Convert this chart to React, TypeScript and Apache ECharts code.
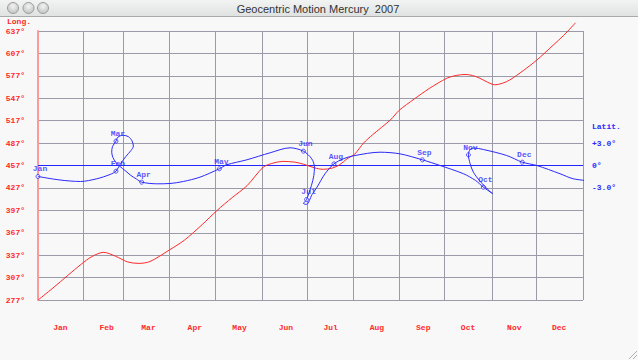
import React, { useEffect, useRef } from 'react';
import * as echarts from 'echarts';

const TITLE = 'Geocentric Motion Mercury  2007';
const MONTHS = ['Jan', 'Feb', 'Mar', 'Apr', 'May', 'Jun', 'Jul', 'Aug', 'Sep', 'Oct', 'Nov', 'Dec'];
// month boundaries (day of year) for the vertical grid lines
const MONTH_BOUNDARY_DAYS = [0, 30, 57, 88, 119, 150, 180, 211, 242, 272, 304, 334, 365];
// month label positions (day of year, mid-month)
const MONTH_LABEL_DAYS = [15, 46, 74, 105, 135, 166, 196, 227, 258, 288, 319, 349];
const LONG_TICKS = [277, 307, 337, 367, 397, 427, 457, 487, 517, 547, 577, 607, 637];
const LAT_TICKS = [-3, 0, 3];
const LONG_RANGE = [277, 637];

// geocentric longitude (unwrapped, degrees) by day of year
const LONG_DAYS = [0, 10, 20, 29, 36, 44, 52, 60, 67, 75, 88, 98, 110, 120, 130, 140, 151, 158, 164, 172, 178, 185, 191, 197, 202, 207, 212, 218, 224, 236, 242, 252, 262, 274, 280, 286, 291, 296, 301, 306, 311, 316, 325, 334, 345, 352, 360];
const LONG_VALUES = [277, 293, 310, 325, 335, 340.8, 335.5, 328, 326, 328.5, 344, 357, 378, 397, 414, 430, 455, 460.5, 462.5, 461.5, 458.6, 454, 451.9, 453.5, 458, 466, 472, 487, 498, 518, 531, 546, 560, 574, 577.5, 578.8, 577.5, 573.7, 568.5, 565, 567, 571.5, 584, 598, 618, 631, 648];

// latitude path plotted against longitude (in time order)
const PATH_LONG = [277, 291.5, 305, 315.8, 324.6, 328.5, 331.2, 335, 338.4, 340, 339.1, 336.8, 333.2, 329.8, 328.5, 326.2, 325.7, 326.5, 328.5, 331.2, 334.5, 338.4, 342, 345.5, 355.4, 364.2, 373, 384, 396.8, 401.6, 414.9, 430.3, 443.5, 452.3, 457.8, 459.6, 459.2, 457.6, 454.4, 452.4, 454.4, 458, 461.3, 466.6, 472.5, 478.7, 486.4, 502.9, 516.1, 530.9, 542.6, 558, 566, 571.2, 577.3, 575.6, 569, 564.6, 562.4, 561.3, 562.4, 565, 571.2, 586.6, 596.9, 606.5, 621.8, 630.6, 643.8];
const PATH_LAT = [-1.47, -1.94, -2.14, -1.78, -1.2, -0.76, 0.13, 1.2, 2.0, 2.6, 3.3, 3.85, 4.05, 3.8, 3.25, 2.54, 1.78, 1.07, 0.4, -0.13, -0.67, -1.34, -1.8, -2.23, -2.45, -2.41, -2.14, -1.56, -0.44, 0.09, 0.76, 1.7, 2.37, 1.92, 0.9, -0.23, -1.34, -2.68, -4.55, -5.09, -5.2, -3.9, -2.9, -1.1, 0.22, 0.9, 1.34, 1.78, 1.56, 0.76, 0, -1.1, -2.0, -2.9, -3.75, -3.5, -2.1, -0.9, 0.27, 1.43, 2.14, 2.34, 2.14, 1.34, 0.44, 0, -1.1, -1.78, -2.1];

// position on the 1st of each month
const MARK_LONG = [277, 328.5, 328.5, 345.5, 396.8, 452.3, 454.4, 472.5, 530.9, 571.2, 561.3, 596.9];
const MARK_LAT = [-1.47, -0.76, 3.25, -2.23, -0.44, 1.92, -4.55, 0.22, 0.76, -2.9, 1.43, 0.44];

const RED = '#ff2a2a';
const BLUE = '#2a2aff';
const ZERO_BLUE = '#2424ff';
const GRID = '#9a9aa8';
const MONO = '"Liberation Mono", "Courier New", monospace';

export default function App() {
  const ref = useRef<HTMLDivElement>(null);
  useEffect(() => {
    document.body.style.margin = '0';
    const chart = echarts.init(ref.current!, undefined, { renderer: 'svg', width: 638, height: 360 });
    const labelFont = { fontFamily: MONO, fontSize: 8, fontWeight: 'bold' as const };
    const option: any = {
      animation: false,
      backgroundColor: '#f8f8f8',
      grid: { left: 38, right: 55, top: 31, bottom: 60 },
      xAxis: [
        {
          type: 'value', min: 0, max: 365, position: 'bottom',
          axisLine: { show: false, onZero: false },
          axisTick: { show: false, customValues: MONTH_BOUNDARY_DAYS },
          splitLine: { show: true, lineStyle: { color: GRID, width: 1 } },
          axisLabel: {
            customValues: MONTH_LABEL_DAYS, margin: 23, color: RED, ...labelFont,
            formatter: (v: number) => {
              const i = MONTH_LABEL_DAYS.findIndex((d) => Math.abs(d - v) < 0.01);
              return i >= 0 ? MONTHS[i] : '';
            },
          },
        },
        {
          type: 'value', min: LONG_RANGE[0], max: LONG_RANGE[1], show: false,
          axisLine: { show: false, onZero: false }, splitLine: { show: false }, axisLabel: { show: false }, axisTick: { show: false },
        },
      ],
      yAxis: [
        {
          type: 'value', min: LONG_RANGE[0], max: LONG_RANGE[1], position: 'left',
          axisLine: { show: true, onZero: false, lineStyle: { color: '#ff9a9a', width: 2 } },
          axisTick: { show: false, customValues: LONG_TICKS },
          splitLine: { show: true, lineStyle: { color: GRID, width: 1 } },
          axisLabel: { customValues: LONG_TICKS, margin: 13, color: RED, ...labelFont, formatter: (v: number) => `${v}°` },
        },
        {
          type: 'value', min: -18, max: 18, position: 'right',
          axisLine: { show: false, onZero: false },
          axisTick: { show: false, customValues: LAT_TICKS },
          splitLine: { show: false },
          axisLabel: {
            customValues: LAT_TICKS, margin: 9, color: BLUE, ...labelFont,
            formatter: (v: number) => (v > 0 ? `+${v.toFixed(1)}°` : v < 0 ? `${v.toFixed(1)}°` : '0°'),
          },
        },
      ],
      series: [
        {
          type: 'line', name: 'Ecliptic', xAxisIndex: 1, yAxisIndex: 1,
          data: LONG_RANGE.map((l) => [l, 0]),
          showSymbol: false, silent: true,
          lineStyle: { color: ZERO_BLUE, width: 1 },
          itemStyle: { color: ZERO_BLUE },
        },
        {
          type: 'line', name: 'Longitude', xAxisIndex: 0, yAxisIndex: 0,
          data: LONG_DAYS.map((d, i) => [d, LONG_VALUES[i]]),
          showSymbol: false, smooth: 0.3, clip: false,
          lineStyle: { color: RED, width: 1 },
          itemStyle: { color: RED },
        },
        {
          type: 'line', name: 'Latitude', xAxisIndex: 1, yAxisIndex: 1,
          data: PATH_LONG.map((l, i) => [l, PATH_LAT[i]]),
          showSymbol: false, smooth: 0.3, clip: false,
          lineStyle: { color: BLUE, width: 1 },
          itemStyle: { color: BLUE },
        },
        {
          type: 'scatter', name: 'Months', xAxisIndex: 1, yAxisIndex: 1,
          data: MARK_LONG.map((l, i) => [l, MARK_LAT[i]]),
          symbol: 'circle', symbolSize: 4, clip: false,
          itemStyle: { color: '#f8f8f8', borderColor: BLUE, borderWidth: 1 },
          label: {
            show: true, position: 'top', distance: 1, offset: [2, 0], color: BLUE, ...labelFont,
            formatter: (p: any) => MONTHS[p.dataIndex],
          },
        },
      ],
      graphic: [
        {
          type: 'rect', shape: { x: 0, y: 0, width: 638, height: 17 }, silent: true,
          style: {
            fill: new echarts.graphic.LinearGradient(0, 0, 0, 1, [
              { offset: 0, color: '#f2f3f3' },
              { offset: 1, color: '#dfe1e1' },
            ]),
          },
        },
        { type: 'line', shape: { x1: 0, y1: 16.5, x2: 638, y2: 16.5 }, style: { stroke: '#a9abab', lineWidth: 1 }, silent: true },
        ...[13, 28.5, 43].map((cx) => ({
          type: 'circle', shape: { cx, cy: 8, r: 5.5 }, silent: true,
          style: {
            fill: new echarts.graphic.RadialGradient(0.5, 0.35, 0.7, [
              { offset: 0, color: '#f4f4f4' },
              { offset: 1, color: '#bdbdbd' },
            ]),
            stroke: '#9c9c9c', lineWidth: 1,
          },
        })),
        {
          type: 'text', x: 318, y: 9, silent: true,
          style: { text: TITLE, fill: '#333333', font: '11px "Liberation Sans", Arial, sans-serif', textAlign: 'center', textVerticalAlign: 'middle' },
        },
        {
          type: 'text', x: 7, y: 21, silent: true,
          style: { text: 'Long.', fill: RED, font: `bold 8px ${MONO}`, textAlign: 'left', textVerticalAlign: 'middle' },
        },
        {
          type: 'text', x: 592, y: 126, silent: true,
          style: { text: 'Latit.', fill: BLUE, font: `bold 8px ${MONO}`, textAlign: 'left', textVerticalAlign: 'middle' },
        },
        ...[0, 4, 8].map((o) => ({
          type: 'line', silent: true,
          shape: { x1: 638 - o - 1, y1: 359, x2: 637, y2: 359 - o },
          style: { stroke: '#b0b0b0', lineWidth: 1 },
        })),
      ],
    };
    chart.setOption(option);
    return () => chart.dispose();
  }, []);
  return <div ref={ref} style={{ position: 'fixed', left: 0, top: 0, width: 638, height: 360 }} />;
}
